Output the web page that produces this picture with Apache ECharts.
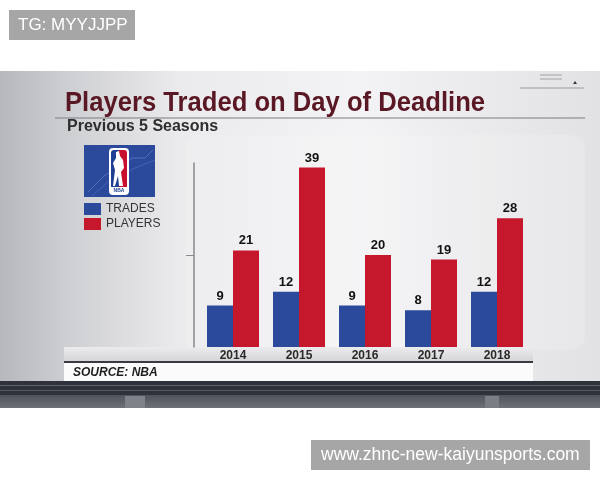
<!DOCTYPE html>
<html>
<head>
<meta charset="utf-8">
<script src="https://cdn.jsdelivr.net/npm/echarts@6/dist/echarts.min.js"></script>
<style>
html,body{margin:0;padding:0;background:#fff;}
#c{width:600px;height:480px;}
</style>
</head>
<body>
<div id="c"></div>
<script>
const categories = ['2014', '2015', '2016', '2017', '2018'];
const trades = [9, 12, 9, 8, 12];
const players = [21, 39, 20, 19, 28];
const seriesNames = ['TRADES', 'PLAYERS'];
const titleText = 'Players Traded on Day of Deadline';
const subtitleText = 'Previous 5 Seasons';
const sourceText = 'SOURCE: NBA';
const yTickValues = [20];

const chart = echarts.init(document.getElementById('c'), null, {renderer: 'canvas'});

const BLUE = '#2b4a9c';
const RED = '#c5182c';
const FF = 'Liberation Sans, Arial, sans-serif';

const option = {
  animation: false,
  backgroundColor: '#ffffff',
  title: [
    {
      text: subtitleText, left: 67, top: 119, padding: 0,
      textStyle: {fontFamily: FF, fontWeight: 'bold', fontSize: 16, color: '#2e2e2e'}
    }
  ],
  legend: {
    data: seriesNames, orient: 'vertical', left: 84, top: 203, padding: 0,
    itemWidth: 17, itemHeight: 12, itemGap: 3, icon: 'rect',
    textStyle: {fontFamily: FF, fontSize: 12, color: '#333'}
  },
  grid: {left: 200, right: 70, top: 163, bottom: 133},
  xAxis: {
    type: 'category', data: categories,
    axisLine: {show: false}, axisTick: {show: false},
    axisLabel: {margin: 3, fontFamily: FF, fontWeight: 'bold', fontSize: 12, color: '#2a2a2a'}
  },
  yAxis: {
    type: 'value', min: 0, max: 40, interval: 20, offset: 6,
    axisLine: {show: true, lineStyle: {color: '#8a8a8e', width: 1.5}},
    axisTick: {show: true, inside: false, length: 8, customValues: yTickValues, lineStyle: {color: '#8a8a8e'}},
    axisLabel: {show: false}, splitLine: {show: false}
  },
  series: [
    {
      name: seriesNames[0], type: 'bar', data: trades, barWidth: 26, barGap: '0%',
      itemStyle: {color: BLUE},
      label: {show: true, position: 'top', distance: 3, fontFamily: FF, fontWeight: 'bold', fontSize: 13, color: '#111'}
    },
    {
      name: seriesNames[1], type: 'bar', data: players, barWidth: 26, barGap: '0%',
      itemStyle: {color: RED},
      label: {show: true, position: 'top', distance: 3, fontFamily: FF, fontWeight: 'bold', fontSize: 13, color: '#111'}
    }
  ],
  graphic: [
    // panel background
    {type: 'rect', z: -20, shape: {x: 0, y: 71, width: 600, height: 312},
      style: {fill: new echarts.graphic.LinearGradient(0, 0, 1, 0, [
        {offset: 0, color: '#b7b8bc'}, {offset: 0.12, color: '#cfd0d3'},
        {offset: 0.3, color: '#ebebed'}, {offset: 0.6, color: '#f3f3f5'}, {offset: 1, color: '#e2e2e5'}])}},
    {type: 'rect', z: -19, shape: {x: 185, y: 135, width: 400, height: 215, r: 14},
      style: {fill: 'rgba(255,255,255,0.15)'}},
    // title (slightly condensed)
    {type: 'text', z: 5, x: 65, y: 103, scaleX: 0.915, originX: 0, originY: 0,
      style: {x: 0, y: 0, text: titleText, fill: '#5a1824', font: 'bold 28px Liberation Sans, Arial, sans-serif', textVerticalAlign: 'middle'}},
    // top-right decoration
    {type: 'line', z: -5, shape: {x1: 540, y1: 75, x2: 562, y2: 75}, style: {stroke: '#a0a0a4', lineWidth: 1}},
    {type: 'line', z: -5, shape: {x1: 540, y1: 79, x2: 562, y2: 79}, style: {stroke: '#a0a0a4', lineWidth: 1}},
    {type: 'line', z: -5, shape: {x1: 520, y1: 88, x2: 584, y2: 88}, style: {stroke: '#9a9a9e', lineWidth: 1}},
    {type: 'polygon', z: -5, shape: {points: [[573, 84], [577, 84], [575, 81]]}, style: {fill: '#333'}},
    // title underline
    {type: 'line', z: -5, shape: {x1: 55, y1: 118, x2: 585, y2: 118}, style: {stroke: '#7d7d80', lineWidth: 1.2}},
    // NBA logo box
    {type: 'rect', z: -5, shape: {x: 84, y: 145, width: 71, height: 52}, style: {fill: '#2b4a9c'}},
    {type: 'polyline', z: -4, shape: {points: [[88, 192], [104, 176], [132, 158], [145, 158], [153, 150]]}, style: {stroke: '#5a78c0', lineWidth: 0.8, fill: null}},
    {type: 'polyline', z: -4, shape: {points: [[92, 196], [110, 180], [135, 168], [155, 160]]}, style: {stroke: '#4a68b4', lineWidth: 0.8, fill: null}},
    {type: 'rect', z: -3, shape: {x: 109, y: 148, width: 20, height: 47, r: 4}, style: {fill: '#ffffff'}},
    {type: 'rect', z: -2, shape: {x: 111, y: 150, width: 8, height: 37, r: [3, 0, 0, 0]}, style: {fill: '#1f3f93'}},
    {type: 'rect', z: -2, shape: {x: 119, y: 150, width: 8, height: 37, r: [0, 3, 0, 0]}, style: {fill: '#c8102e'}},
    {type: 'polygon', z: -1, shape: {points: [[116, 152], [119, 151], [120, 156], [123, 160], [124, 168], [121, 172], [123, 186], [119, 186], [118, 176], [115, 186], [113, 186], [115, 170], [113, 163], [116, 158]]}, style: {fill: '#ffffff'}},
    {type: 'text', z: -1, style: {x: 119, y: 191, text: 'NBA', fill: '#1f3f93', font: 'bold 5px Liberation Sans, Arial, sans-serif', textAlign: 'center', textVerticalAlign: 'middle'}},
    // axis label strip
    {type: 'rect', z: -6, shape: {x: 64, y: 347, width: 469, height: 15},
      style: {fill: new echarts.graphic.LinearGradient(0, 0, 0, 1, [{offset: 0, color: '#ececee'}, {offset: 1, color: '#d4d4d7'}])}},
    {type: 'rect', z: -5, shape: {x: 64, y: 361, width: 469, height: 2}, style: {fill: '#3a3b40'}},
    // source box
    {type: 'rect', z: -5, shape: {x: 64, y: 363, width: 469, height: 18}, style: {fill: '#fbfbfb'}},
    {type: 'text', z: -4, style: {x: 73, y: 373, text: sourceText, fill: '#1e1e1e', font: 'italic bold 12px Liberation Sans, Arial, sans-serif', textVerticalAlign: 'middle'}},
    // bottom dark bands
    {type: 'rect', z: -10, shape: {x: 0, y: 381, width: 600, height: 14}, style: {fill: '#2f323a'}},
    {type: 'rect', z: -9, shape: {x: 0, y: 385, width: 600, height: 1}, style: {fill: '#60636b'}},
    {type: 'rect', z: -9, shape: {x: 0, y: 390, width: 600, height: 1}, style: {fill: '#55585f'}},
    {type: 'rect', z: -10, shape: {x: 0, y: 395, width: 600, height: 13},
      style: {fill: new echarts.graphic.LinearGradient(0, 0, 0, 1, [{offset: 0, color: '#50535b'}, {offset: 1, color: '#6e7178'}])}},
    {type: 'rect', z: -9, shape: {x: 125, y: 396, width: 20, height: 12}, style: {fill: '#7f8288'}},
    {type: 'rect', z: -9, shape: {x: 485, y: 396, width: 14, height: 12}, style: {fill: '#7a7d84'}},
    // watermark boxes
    {type: 'rect', z: 10, shape: {x: 9, y: 10, width: 126, height: 30}, style: {fill: '#a6a6a6'}},
    {type: 'text', z: 11, style: {x: 18, y: 25, text: 'TG: MYYJJPP', fill: '#ffffff', font: '17px Liberation Sans, Arial, sans-serif', textVerticalAlign: 'middle'}},
    {type: 'rect', z: 10, shape: {x: 311, y: 440, width: 279, height: 30}, style: {fill: '#a6a6a6'}},
    {type: 'text', z: 11, style: {x: 321, y: 455, text: 'www.zhnc-new-kaiyunsports.com', fill: '#ffffff', font: '17.5px Liberation Sans, Arial, sans-serif', textVerticalAlign: 'middle'}}
  ]
};
chart.setOption(option);
</script>
</body>
</html>
